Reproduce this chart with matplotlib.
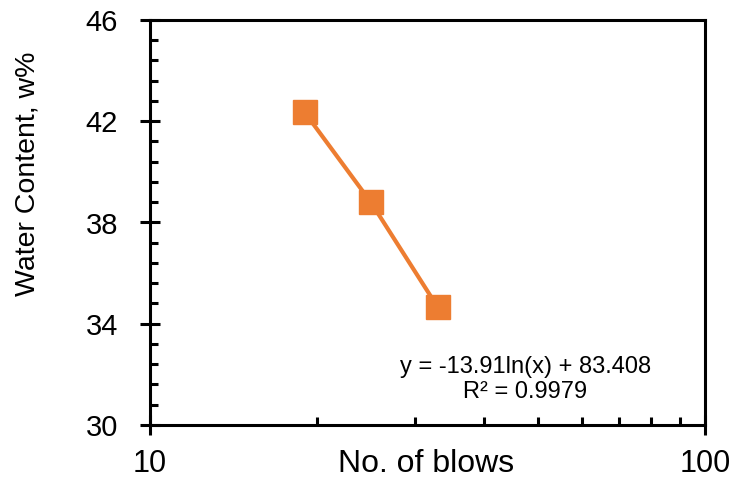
import numpy as np
import matplotlib.pyplot as plt
from matplotlib.ticker import FixedLocator, NullFormatter

plt.rcParams['font.family'] = ['Liberation Sans', 'DejaVu Sans']

blows = [19, 25, 33]
water = [42.35, 38.8, 34.65]
eq_text = "y = -13.91ln(x) + 83.408\nR² = 0.9979"

fig = plt.figure(figsize=(7.35, 4.83), dpi=100)
ax = fig.add_axes([150 / 735, 58 / 483, 555 / 735, 405 / 483])

ax.plot(blows, water, color='#ED7D31', lw=3, marker='s', ms=17,
        markeredgecolor='#ED7D31')

ax.set_xscale('log')
ax.set_xlim(10, 100)
ax.set_ylim(30, 46)
ax.xaxis.set_major_locator(FixedLocator([10, 100]))
ax.xaxis.set_minor_locator(FixedLocator(np.arange(20, 100, 10)))
ax.xaxis.set_minor_formatter(NullFormatter())
ax.set_xticklabels(['10', '100'])
ax.yaxis.set_major_locator(FixedLocator([30, 34, 38, 42, 46]))
ax.yaxis.set_minor_locator(FixedLocator(np.arange(30, 46.01, 0.8)))

for s in ax.spines.values():
    s.set_linewidth(2.2)
ax.tick_params(which='major', direction='inout', length=14, width=2.2,
               labelsize=21)
ax.tick_params(axis='y', which='major', pad=16)
ax.tick_params(axis='x', which='major', pad=10, labelsize=22)
ax.tick_params(which='minor', direction='in', length=6, width=2.2)
ax.tick_params(top=False, right=False, which='both')

ax.set_xlabel('No. of blows', fontsize=23)
ax.xaxis.set_label_coords(0.497, -0.06)
ax.set_ylabel('Water Content, w%', fontsize=20.5)
ax.yaxis.set_label_coords(-0.198, 0.62)

ax.text(0.676, 0.112, eq_text, transform=ax.transAxes, ha='center',
        va='center', fontsize=17, linespacing=1.15)

plt.savefig('out.png')
